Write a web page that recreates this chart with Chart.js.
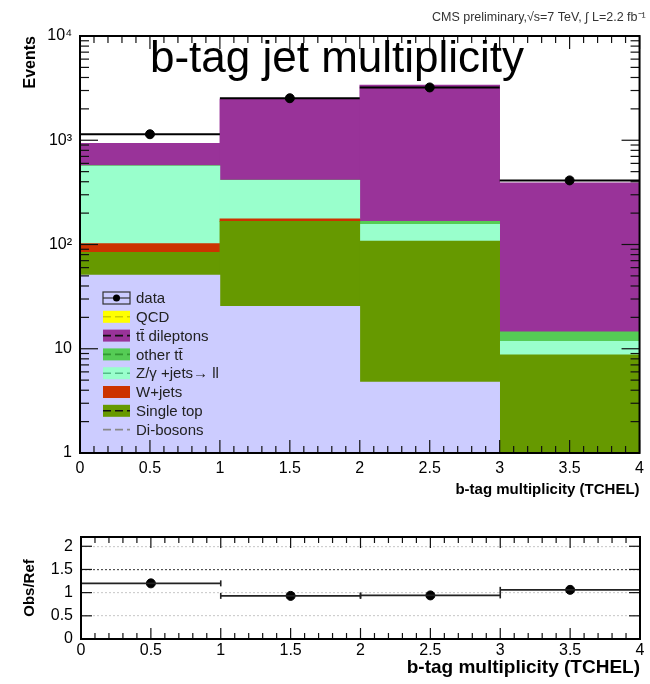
<!DOCTYPE html>
<html>
<head>
<meta charset="utf-8">
<script src="https://cdn.jsdelivr.net/npm/chart.js@4.4.1/dist/chart.umd.min.js"></script>
<style>
  html, body { margin: 0; padding: 0; background: #fff; }
  #wrap { position: relative; width: 650px; height: 684px; }
  #mainBox { position: absolute; left: 0; top: 0; width: 650px; height: 500px; }
  #ratioBox { position: absolute; left: 0; top: 500px; width: 650px; height: 184px; }
</style>
</head>
<body>
<div id="wrap">
  <div id="mainBox"><canvas id="mainChart"></canvas></div>
  <div id="ratioBox"><canvas id="ratioChart"></canvas></div>
</div>
<script>
'use strict';

// values (events per bin)
const binCenters  = [0.5, 1.5, 2.5, 3.5];
const diBosons    = [51, 25.5, 4.8, 0];
const singleTop   = [33, 141, 103, 8.75];
const wJets       = [18, 10, 0, 0];
const zJets       = [464, 235, 48, 3.05];
const otherTT     = [4, 3, 11, 2.7];
const ttDileptons = [365, 2063, 3213, 377];
const qcd         = [0, 0, 0, 0];
const dataEvents  = [1142, 2530, 3210, 412];
const ratioValues = [1.20, 0.93, 0.94, 1.06];

const xTicks = [0, 0.5, 1, 1.5, 2, 2.5, 3, 3.5, 4];
const yTicksMain = [1, 10, 100, 1000, 10000];
const yTickLabelsMain = ['1', '10', '10²', '10³', '10⁴'];
const yTicksRatio = [0, 0.5, 1, 1.5, 2];

const FONT = "'Liberation Sans', Arial, Helvetica, sans-serif";
Chart.defaults.font.family = FONT;
Chart.defaults.color = '#000';

// stack, bottom to top
const series = [
    { label: 'Di-bosons', values: diBosons, fill: '#ccccff', line: '#888888', box: false },
    { label: 'Single top', values: singleTop, fill: '#669900', line: '#111111', box: true },
    { label: 'W+jets', values: wJets, fill: '#cc3300', line: '#cc3300', box: true },
    { label: 'Z/γ +jets→ ll', values: zJets, fill: '#99ffcc', line: '#55bb88', box: true },
    { label: 'other tt̄', values: otherTT, fill: '#55cc55', line: '#339933', box: true },
    { label: 'tt̄ dileptons', values: ttDileptons, fill: '#993399', line: '#111111', box: true },
    { label: 'QCD', values: qcd, fill: '#ffff00', line: '#cccc00', box: true }
];

const toPoints = function (arr) {
    return binCenters.map(function (x, i) { return { x: x, y: arr[i] }; });
};

const strokeLine = function (ctx, x1, y1, x2, y2) {
    ctx.beginPath();
    ctx.moveTo(x1, y1);
    ctx.lineTo(x2, y2);
    ctx.stroke();
};

const mainDecor = {
    id: 'mainDecor',
    afterDatasetsDraw: function (chart) {
        const ctx = chart.ctx;
        const a = chart.chartArea;
        const xs = chart.scales.x;
        const ys = chart.scales.y;
        ctx.save();

        // data: horizontal bin-width bars
        ctx.strokeStyle = '#000';
        ctx.lineWidth = 2;
        binCenters.forEach(function (c, i) {
            const y = ys.getPixelForValue(dataEvents[i]);
            strokeLine(ctx, xs.getPixelForValue(c - 0.5), y, xs.getPixelForValue(c + 0.5), y);
        });

        // ROOT style inner ticks
        ctx.lineWidth = 1.2;
        ctx.strokeStyle = '#111';
        for (let k = 0; k <= 40; k++) {
            const px = xs.getPixelForValue(k / 10);
            const len = k % 5 === 0 ? 13 : 7;
            strokeLine(ctx, px, a.bottom, px, a.bottom - len);
            strokeLine(ctx, px, a.top, px, a.top + len);
        }
        [1, 10, 100, 1000].forEach(function (d) {
            for (let m = 1; m <= 9; m++) {
                const py = ys.getPixelForValue(d * m);
                const len = m === 1 ? 18 : 9;
                strokeLine(ctx, a.left, py, a.left + len, py);
                strokeLine(ctx, a.right, py, a.right - len, py);
            }
        });

        // frame
        ctx.lineWidth = 2;
        ctx.strokeStyle = '#000';
        ctx.strokeRect(a.left, a.top, a.right - a.left, a.bottom - a.top);

        // legend
        const bx = 103, bw = 27, bh = 12, tx = 136;
        let ly = 298;
        const step = 18.8;
        ctx.font = '15px ' + FONT;
        ctx.textBaseline = 'middle';
        ctx.textAlign = 'left';
        ctx.strokeStyle = '#333';
        ctx.lineWidth = 1.2;
        ctx.strokeRect(bx, ly - bh / 2, bw, bh);
        strokeLine(ctx, bx, ly, bx + bw, ly);
        ctx.beginPath();
        ctx.arc(bx + bw / 2, ly, 3.5, 0, Math.PI * 2);
        ctx.fillStyle = '#000';
        ctx.fill();
        ctx.fillStyle = '#222';
        ctx.fillText('data', tx, ly + 1);
        series.slice().reverse().forEach(function (s) {
            ly += step;
            if (s.box) {
                ctx.fillStyle = s.fill;
                ctx.fillRect(bx, ly - bh / 2, bw, bh);
            }
            ctx.strokeStyle = s.line;
            ctx.lineWidth = 1.6;
            ctx.setLineDash([8, 4]);
            strokeLine(ctx, bx, ly, bx + bw, ly);
            ctx.setLineDash([]);
            ctx.fillStyle = '#222';
            ctx.fillText(s.label, tx, ly + 1);
        });
        ctx.restore();
    },
    afterDraw: function (chart) {
        const ctx = chart.ctx;
        ctx.save();
        ctx.fillStyle = '#000';
        ctx.textBaseline = 'alphabetic';
        ctx.textAlign = 'center';
        ctx.font = '44px ' + FONT;
        ctx.fillText('b-tag jet multiplicity', 337, 72);
        ctx.textAlign = 'left';
        ctx.font = '12.5px ' + FONT;
        ctx.fillStyle = '#333';
        ctx.fillText('CMS preliminary,√s=7 TeV, ∫ L=2.2 fb⁻¹', 432, 21);
        ctx.restore();
    }
};

const ratioDecor = {
    id: 'ratioDecor',
    afterDatasetsDraw: function (chart) {
        const ctx = chart.ctx;
        const a = chart.chartArea;
        const xs = chart.scales.x;
        const ys = chart.scales.y;
        ctx.save();
        ctx.strokeStyle = '#222';
        ctx.lineWidth = 1.6;
        binCenters.forEach(function (c, i) {
            const y = ys.getPixelForValue(ratioValues[i]);
            const x1 = xs.getPixelForValue(c - 0.5);
            const x2 = xs.getPixelForValue(c + 0.5);
            strokeLine(ctx, x1, y, x2, y);
            strokeLine(ctx, x1, y - 3, x1, y + 3);
            strokeLine(ctx, x2, y - 3, x2, y + 3);
        });
        ctx.lineWidth = 1.2;
        ctx.strokeStyle = '#111';
        for (let k = 0; k <= 40; k++) {
            const px = xs.getPixelForValue(k / 10);
            const len = k % 5 === 0 ? 11 : 6;
            strokeLine(ctx, px, a.bottom, px, a.bottom - len);
            strokeLine(ctx, px, a.top, px, a.top + len);
        }
        yTicksRatio.forEach(function (v) {
            const py = ys.getPixelForValue(v);
            strokeLine(ctx, a.left, py, a.left + 11, py);
            strokeLine(ctx, a.right, py, a.right - 11, py);
        });
        ctx.lineWidth = 2;
        ctx.strokeStyle = '#000';
        ctx.strokeRect(a.left, a.top, a.right - a.left, a.bottom - a.top);
        ctx.restore();
    }
};

const barDatasets = series.map(function (s) {
    return {
        type: 'bar',
        label: s.label,
        data: toPoints(s.values),
        backgroundColor: s.fill,
        borderWidth: 0,
        barThickness: 'flex',
        barPercentage: 1,
        categoryPercentage: 1,
        order: 1
    };
});

const mainChart = new Chart(document.getElementById('mainChart').getContext('2d'), {
    type: 'bar',
    data: {
        datasets: barDatasets.concat([{
            type: 'scatter',
            label: 'data',
            data: toPoints(dataEvents),
            stack: 'data',
            backgroundColor: '#000',
            borderColor: '#000',
            pointRadius: 4.5,
            order: 0
        }])
    },
    options: {
        responsive: true,
        maintainAspectRatio: false,
        animation: false,
        layout: { padding: { top: 36, right: 10, left: 0, bottom: 0 } },
        plugins: {
            legend: false,
            tooltip: { enabled: false }
        },
        scales: {
            x: {
                type: 'linear',
                min: 0,
                max: 4,
                offset: false,
                stacked: true,
                grid: { display: false, drawTicks: false },
                border: { display: false },
                afterBuildTicks: function (scale) {
                    scale.ticks = xTicks.map(function (v) { return { value: v }; });
                },
                afterFit: function (scale) { scale.height = 47; },
                ticks: {
                    padding: 6,
                    maxRotation: 0,
                    autoSkip: false,
                    font: { size: 16 },
                    callback: function (v) { return String(v); }
                },
                title: {
                    display: true,
                    text: 'b-tag multiplicity (TCHEL)',
                    align: 'end',
                    font: { size: 15, weight: 'bold' },
                    padding: { top: 0, bottom: 1 }
                }
            },
            y: {
                type: 'logarithmic',
                min: 1,
                max: 10000,
                stacked: true,
                grid: { display: false, drawTicks: false },
                border: { display: false },
                afterBuildTicks: function (scale) {
                    scale.ticks = yTicksMain.map(function (v) { return { value: v, major: true }; });
                },
                afterFit: function (scale) { scale.width = 80; },
                ticks: {
                    padding: 8,
                    autoSkip: false,
                    font: { size: 16 },
                    callback: function (v, i) { return yTickLabelsMain[i]; }
                },
                title: {
                    display: true,
                    text: 'Events',
                    align: 'end',
                    font: { size: 16, weight: 'bold' },
                    padding: { top: 21, bottom: 0 }
                }
            }
        }
    },
    plugins: [mainDecor]
});

const ratioChart = new Chart(document.getElementById('ratioChart').getContext('2d'), {
    type: 'scatter',
    data: {
        datasets: [{
            label: 'Obs/Ref',
            data: toPoints(ratioValues),
            backgroundColor: '#000',
            borderColor: '#000',
            pointRadius: 4.5
        }]
    },
    options: {
        responsive: true,
        maintainAspectRatio: false,
        animation: false,
        layout: { padding: { top: 37, right: 10, left: 0, bottom: 0 } },
        plugins: {
            legend: false,
            tooltip: { enabled: false }
        },
        scales: {
            x: {
                type: 'linear',
                min: 0,
                max: 4,
                grid: { display: false, drawTicks: false },
                border: { display: false },
                afterBuildTicks: function (scale) {
                    scale.ticks = xTicks.map(function (v) { return { value: v }; });
                },
                afterFit: function (scale) { scale.height = 45; },
                ticks: {
                    padding: 2,
                    maxRotation: 0,
                    autoSkip: false,
                    font: { size: 16 },
                    callback: function (v) { return String(v); }
                },
                title: {
                    display: true,
                    text: 'b-tag multiplicity (TCHEL)',
                    align: 'end',
                    font: { size: 19, weight: 'bold' },
                    padding: { top: 0, bottom: 5 }
                }
            },
            y: {
                type: 'linear',
                min: 0,
                max: 2.2,
                grid: {
                    drawTicks: false,
                    lineWidth: 1.2,
                    color: function (c) {
                        return c.tick && c.tick.value === 1.5 ? '#555' : '#cfcfcf';
                    }
                },
                border: { display: false, dash: [2, 2] },
                afterBuildTicks: function (scale) {
                    scale.ticks = yTicksRatio.map(function (v) { return { value: v }; });
                },
                afterFit: function (scale) { scale.width = 81; },
                ticks: {
                    padding: 8,
                    autoSkip: false,
                    font: { size: 16 },
                    callback: function (v) { return String(v); }
                },
                title: {
                    display: true,
                    text: 'Obs/Ref',
                    align: 'center',
                    font: { size: 15, weight: 'bold' },
                    padding: { top: 21, bottom: 0 }
                }
            }
        }
    },
    plugins: [ratioDecor]
});
</script>
</body>
</html>
